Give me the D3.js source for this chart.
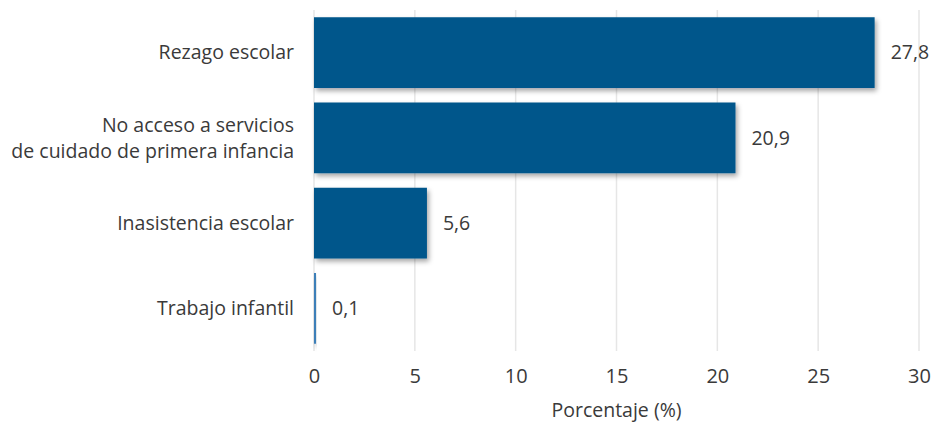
<!DOCTYPE html>
<html><head><meta charset="utf-8">
<script src="https://cdn.jsdelivr.net/npm/d3@7"></script>
<style>body{margin:0;background:#fff}svg{display:block}text{font-family:"Open Sans",sans-serif;fill:#3a3a3a}</style>
</head><body><svg id="c" width="932" height="423"></svg>
<script>
const categories = [["Rezago escolar"], ["No acceso a servicios","de cuidado de primera infancia"], ["Inasistencia escolar"], ["Trabajo infantil"]];
const values = [27.8, 20.9, 5.6, 0.1];
const valueLabels = ["27,8", "20,9", "5,6", "0,1"];
const ticks = [0, 5, 10, 15, 20, 25, 30];
const axisTitle = "Porcentaje (%)";

const svg = d3.select("#c");
const defs = svg.append("defs");
const f = defs.append("filter").attr("id","sh").attr("x","-20%").attr("y","-20%").attr("width","140%").attr("height","150%");
f.append("feDropShadow").attr("dx",2).attr("dy",3).attr("stdDeviation",2.5).attr("flood-color","#000").attr("flood-opacity",0.35);

const x = d3.scaleLinear().domain([0,30]).range([314,919]);
const y = d3.scaleBand().domain(d3.range(categories.length)).range([10,351]).paddingInner(0.17).paddingOuter(0.085);

const g = svg.append("g");
g.selectAll("line.grid").data(ticks).join("line").attr("class","grid")
  .attr("x1",d=>x(d)).attr("x2",d=>x(d)).attr("y1",10).attr("y2",351)
  .attr("stroke","#e6e6e6").attr("stroke-width",1.5);

g.selectAll("rect.bar").data(values).join("rect").attr("class","bar")
  .attr("x",x(0)).attr("y",(d,i)=>y(i)).attr("width",d=>Math.max(1.5,x(d)-x(0))).attr("height",y.bandwidth())
  .attr("fill",(d,i)=> d<0.5 ? "#3d7fb8" : "#02568b").attr("filter","url(#sh)");

g.selectAll("text.val").data(values).join("text").attr("class","val")
  .attr("x",d=>Math.max(x(d),x(0)+1.5)+16).attr("y",(d,i)=>y(i)+y.bandwidth()/2).attr("dy","0.35em")
  .attr("font-size",19.5).text((d,i)=>valueLabels[i]);

const cat = g.selectAll("text.cat").data(categories).join("text").attr("class","cat")
  .attr("text-anchor","end").attr("font-size",19.5)
  .attr("transform",(d,i)=>`translate(294,${y(i)+y.bandwidth()/2})`);
cat.each(function(lines){
  const t = d3.select(this);
  lines.forEach((l,k)=>{
    t.append("tspan").attr("x",0).attr("y",(k-(lines.length-1)/2)*26).attr("dy","0.35em").text(l);
  });
});

const ax = g.append("g").attr("transform","translate(0,351)")
  .call(d3.axisBottom(x).tickValues(ticks).tickSize(0).tickPadding(18).tickFormat(d=>d));
ax.select(".domain").remove();
ax.selectAll("text").attr("font-size",20).attr("fill","#3a3a3a").style("font-family","'Open Sans', sans-serif");

g.append("text").attr("x",x(15)).attr("y",417).attr("text-anchor","middle").attr("font-size",19.5).text(axisTitle);
</script></body></html>
